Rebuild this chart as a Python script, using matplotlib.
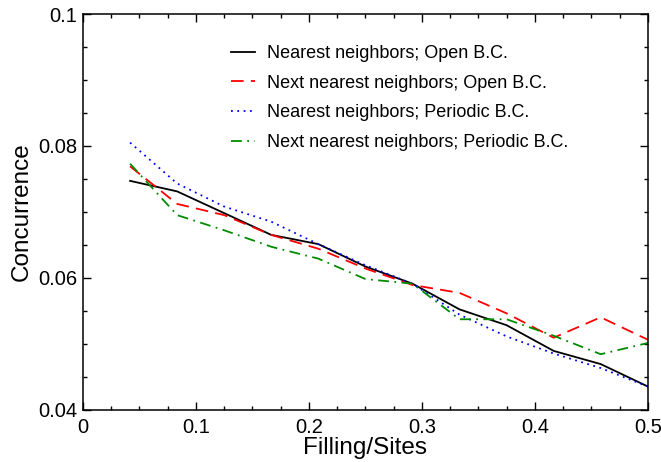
import matplotlib
matplotlib.use('Agg')
import matplotlib.pyplot as plt
from matplotlib.ticker import MultipleLocator

plt.rcParams['font.family'] = ['Liberation Sans', 'DejaVu Sans']

# filling fraction k/24
filling = [1/24, 2/24, 3/24, 4/24, 5/24, 6/24, 7/24, 8/24, 9/24, 10/24, 11/24, 12/24]

nn_open = [0.0747, 0.0731, 0.0698, 0.0665, 0.0651, 0.0617, 0.0591, 0.0552, 0.0528, 0.0489, 0.0469, 0.0435]
nnn_open = [0.0769, 0.0712, 0.0695, 0.0665, 0.0644, 0.0614, 0.0589, 0.0577, 0.0546, 0.0509, 0.0540, 0.0506]
nn_periodic = [0.0805, 0.0743, 0.0708, 0.0685, 0.0651, 0.0619, 0.0591, 0.0544, 0.0511, 0.0485, 0.0463, 0.0435]
nnn_periodic = [0.0773, 0.0695, 0.0672, 0.0647, 0.0629, 0.0598, 0.0591, 0.0537, 0.0537, 0.0512, 0.0484, 0.0501]

labels = ['Nearest neighbors; Open B.C.',
          'Next nearest neighbors; Open B.C.',
          'Nearest neighbors; Periodic B.C.',
          'Next nearest neighbors; Periodic B.C.']

fig = plt.figure(figsize=(6.61, 4.62), dpi=100)
ax = fig.add_axes([0.1256, 0.1135, 0.8544, 0.856])

lw = 1.3
ax.plot(filling, nn_open, color='black', lw=lw, ls='-', label=labels[0])
ax.plot(filling, nnn_open, color='#ff0000', lw=lw, ls=(0, (7, 4)), label=labels[1])
ax.plot(filling, nn_periodic, color='#0000ff', lw=lw, ls=(0, (1, 2.5)), label=labels[2])
ax.plot(filling, nnn_periodic, color='#008c00', lw=lw, ls=(0, (6, 3, 1, 3)), label=labels[3])

ax.set_xlim(0, 0.5)
ax.set_ylim(0.04, 0.1)
ax.xaxis.set_minor_locator(MultipleLocator(0.025))
ax.yaxis.set_minor_locator(MultipleLocator(0.005))
ax.set_xticks([0, 0.1, 0.2, 0.3, 0.4, 0.5])
ax.set_xticklabels(['0', '0.1', '0.2', '0.3', '0.4', '0.5'])
ax.set_yticks([0.04, 0.06, 0.08, 0.1])
ax.set_yticklabels(['0.04', '0.06', '0.08', '0.1'])

ax.tick_params(which='both', direction='in', top=True, right=True, width=1.0, labelsize=14.5)
ax.tick_params(which='major', length=6)
ax.tick_params(which='minor', length=3)
ax.tick_params(axis='x', pad=6)
ax.tick_params(axis='y', pad=4)
for s in ax.spines.values():
    s.set_linewidth(1.1)

ax.set_xlabel('Filling/Sites', fontsize=17.5, labelpad=0)
ax.set_ylabel('Concurrence', fontsize=17.5, labelpad=4)

ax.legend(loc='upper left', bbox_to_anchor=(0.25, 0.94), frameon=False, fontsize=13,
          handlelength=1.3, handletextpad=0.65, labelspacing=0.7, borderaxespad=0)

fig.savefig('out.png', dpi=100)
